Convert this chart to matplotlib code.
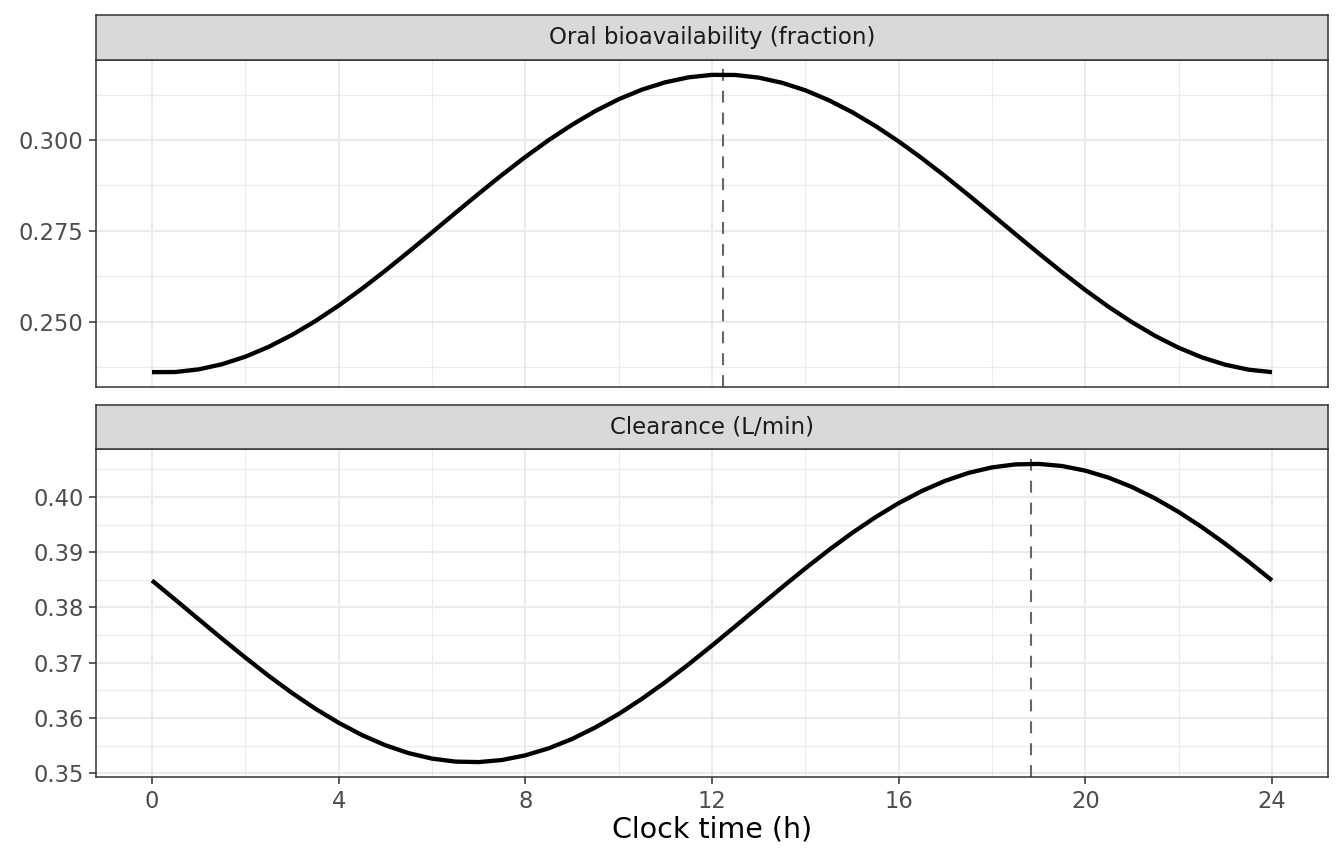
import numpy as np
import matplotlib
matplotlib.use("Agg")
from matplotlib import pyplot as plt

# clock time, every half hour
hours = [i * 0.5 for i in range(49)]

# values
bioavail = [0.23607, 0.23610, 0.23683, 0.23825, 0.24032, 0.24303, 0.24632,
            0.25013, 0.25440, 0.25905, 0.26402, 0.26921, 0.27453, 0.27990,
            0.28521, 0.29038, 0.29533, 0.29996, 0.30418, 0.30797, 0.31121,
            0.31387, 0.31589, 0.31725, 0.31793, 0.31790, 0.31717, 0.31575,
            0.31368, 0.31097, 0.30768, 0.30387, 0.29960, 0.29495, 0.28998,
            0.28479, 0.27947, 0.27410, 0.26879, 0.26362, 0.25867, 0.25404,
            0.24982, 0.24603, 0.24279, 0.24013, 0.23811, 0.23675, 0.23607]
clearance = [0.38489, 0.38140, 0.37787, 0.37436, 0.37093, 0.36763, 0.36453,
             0.36168, 0.35913, 0.35691, 0.35507, 0.35364, 0.35265, 0.35211,
             0.35202, 0.35240, 0.35324, 0.35451, 0.35620, 0.35829, 0.36072,
             0.36348, 0.36649, 0.36972, 0.37311, 0.37660, 0.38013, 0.38364,
             0.38707, 0.39037, 0.39347, 0.39632, 0.39888, 0.40109, 0.40293,
             0.40436, 0.40535, 0.40589, 0.40598, 0.40560, 0.40476, 0.40349,
             0.40180, 0.39971, 0.39728, 0.39453, 0.39151, 0.38828, 0.38489]

peak_times = [12.23, 18.84]
panel_titles = ["Oral bioavailability (fraction)", "Clearance (L/min)"]
y_major = [[0.250, 0.275, 0.300], [0.35, 0.36, 0.37, 0.38, 0.39, 0.40]]
y_fmt = ["{:.3f}", "{:.2f}"]
x_major = [0, 4, 8, 12, 16, 20, 24]

series = [bioavail, clearance]

W, H = 1344, 864
fig = plt.figure(figsize=(W / 100, H / 100), dpi=100)
plt.rcParams['font.family'] = ['DejaVu Sans']

left, right = 96 / W, 1328 / W
# (strip top, panel top, panel bottom) in pixels
boxes = [(15, 60, 387), (405, 449, 777)]

for k, (st, pt, pb) in enumerate(boxes):
    ax = fig.add_axes([left, 1 - pb / H, right - left, (pb - pt) / H])
    y = series[k]
    lo, hi = min(y), max(y)
    pad = (hi - lo) * 0.05
    ax.set_ylim(lo - pad, hi + pad)
    ax.set_xlim(-1.2, 25.2)

    # grid like theme_bw
    step = y_major[k][1] - y_major[k][0]
    minors_y = [v - step / 2 for v in y_major[k]] + [y_major[k][-1] + step / 2]
    for v in minors_y:
        ax.axhline(v, color='#EBEBEB', lw=0.75, zorder=0)
    for v in y_major[k]:
        ax.axhline(v, color='#EBEBEB', lw=1.5, zorder=0)
    for v in [2, 6, 10, 14, 18, 22]:
        ax.axvline(v, color='#EBEBEB', lw=0.75, zorder=0)
    for v in x_major:
        ax.axvline(v, color='#EBEBEB', lw=1.5, zorder=0)

    ax.plot(hours, y, color='black', lw=3.1, solid_capstyle='butt', zorder=3)
    ax.axvline(peak_times[k], color='#666666', lw=1.5, dashes=(5.7, 4.8), zorder=2)

    ax.set_yticks(y_major[k])
    ax.set_yticklabels([y_fmt[k].format(v) for v in y_major[k]])
    ax.set_xticks(x_major)
    ax.tick_params(axis='both', colors='#333333', labelcolor='#4D4D4D',
                   labelsize=16.3, length=5, width=1.1, pad=4)
    if k == 0:
        ax.tick_params(axis='x', bottom=False, labelbottom=False)
    else:
        ax.set_xlabel("Clock time (h)", fontsize=20.5, color='black', labelpad=2)
    for s in ax.spines.values():
        s.set_color('#333333')
        s.set_linewidth(1.1)

    # facet strip
    sax = fig.add_axes([left, 1 - pt / H, right - left, (pt - st) / H])
    sax.set_facecolor('#D9D9D9')
    sax.set_xticks([])
    sax.set_yticks([])
    for s in sax.spines.values():
        s.set_color('#333333')
        s.set_linewidth(1.1)
    sax.text(0.5, 0.5, panel_titles[k], ha='center', va='center',
             fontsize=16.5, color='#1A1A1A', transform=sax.transAxes)

fig.savefig("out.png", dpi=100)
